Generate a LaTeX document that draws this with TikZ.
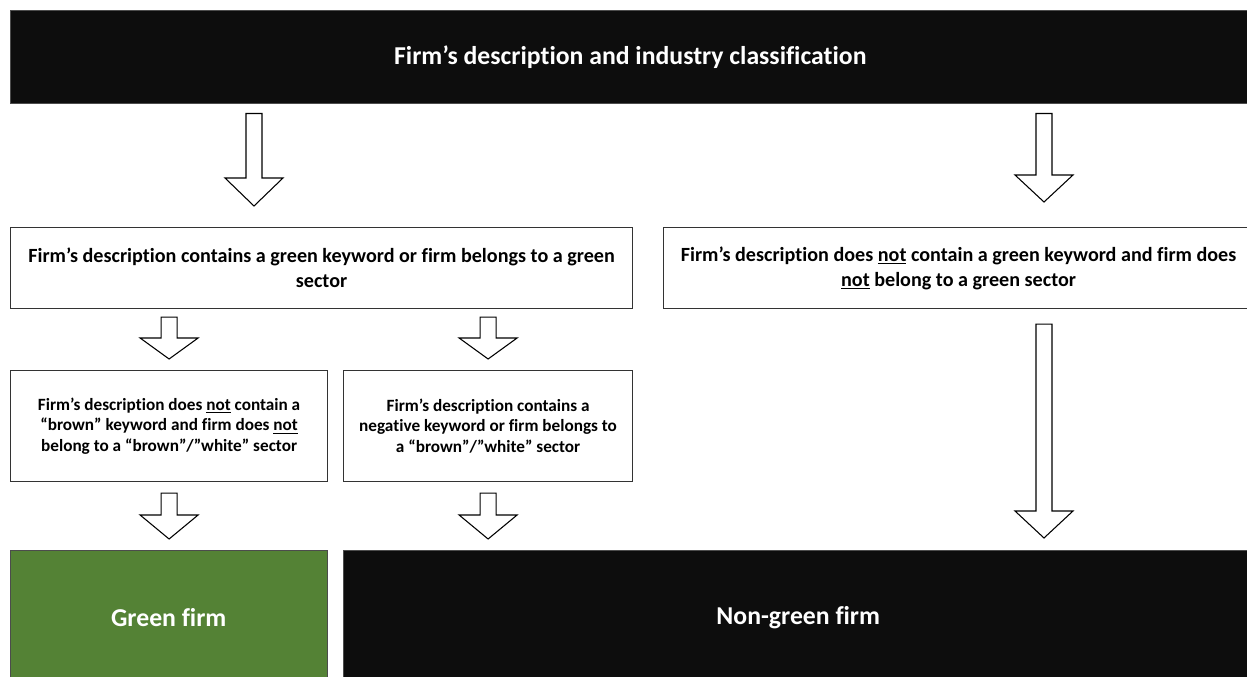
\documentclass[tikz,border=0pt]{standalone}
\usepackage{fontspec}
\setmainfont{Carlito}[Ligatures=NoCommon]
\usetikzlibrary{calc}

\definecolor{nearblack}{HTML}{0D0D0D}
\definecolor{firmgreen}{HTML}{548235}

% block arrow: [head length]{from}{to}{column}{top gap}{tip gap}
\newcommand{\fatarrow}[6][26]{%
  \coordinate (fa top) at ($(#2.south -| #4)+(0,#5)$);
  \coordinate (fa tip) at ($(#3.north -| #4)-(0,#6)$);
  \draw[fatline] ($(fa top)+(-8,0)$) -- ($(fa tip)+(-8,-#1)$) -- ($(fa tip)+(-29,-#1)$)
    -- (fa tip) -- ($(fa tip)+(29,-#1)$) -- ($(fa tip)+(8,-#1)$) -- ($(fa top)+(8,0)$) -- cycle;}

\begin{document}
\begin{tikzpicture}[x=0.75pt, y=-0.75pt,
  boxsize/.style 2 args={minimum width=#1*0.75pt, minimum height=#2*0.75pt, inner sep=0pt},
  darkbox/.style={fill=nearblack, draw=black!70, text=white, anchor=north west, align=center,
    font=\fontsize{19.3}{23}\selectfont\bfseries},
  whitebox/.style={draw=black!80, line width=0.9pt, anchor=north west, align=center},
  bigtext/.style={font=\fontsize{15.1}{18.8}\selectfont\bfseries},
  smalltext/.style={font=\fontsize{12.9}{15.4}\selectfont\bfseries},
  fatline/.style={draw=black, line width=0.8pt, fill=white, line join=miter}]
\useasboundingbox (0,0) rectangle (1247,677);

\node[darkbox, boxsize={1240}{93}] (top) at (10,10)
  {Firm’s description and industry classification};

\node[whitebox, bigtext, boxsize={622}{81}] (green) at (10,227)
  {Firm’s description contains a green keyword or firm belongs to a green\\ sector};
\node[whitebox, bigtext, boxsize={590}{81}] (nogreen) at (663,227)
  {Firm’s description does \underline{not} contain a green keyword and firm does\\ \underline{not} belong to a green sector};

\node[whitebox, smalltext, boxsize={317}{111}] (nobrown) at (10,370)
  {Firm’s description does \underline{not} contain a\\ “brown” keyword and firm does \underline{not}\\ belong to a “brown”/”white” sector};
\node[whitebox, smalltext, boxsize={289}{111}] (brown) at (343,370)
  {Firm’s description contains a\\ negative keyword or firm belongs to\\ a “brown”/”white” sector};

\node[darkbox, fill=firmgreen, boxsize={317}{135}] (gfirm) at (10,550) {Green firm};
\node[darkbox, boxsize={910}{135}] (ngfirm) at (343,550) {Non-green firm};

\coordinate (colL) at (254,0);
\coordinate (colR) at (1044,0);

\fatarrow[28]{top}{green}{colL}{10}{21}
\fatarrow[27]{top}{nogreen}{colR}{10}{25}
\fatarrow[21]{green}{nobrown}{nobrown}{8}{11}
\fatarrow[21]{green}{brown}{brown}{8}{11}
\fatarrow[24]{nobrown}{gfirm}{nobrown}{11}{11}
\fatarrow[24]{brown}{ngfirm}{brown}{11}{11}
\fatarrow[27]{nogreen}{ngfirm}{colR}{15}{12}
\end{tikzpicture}
\end{document}
